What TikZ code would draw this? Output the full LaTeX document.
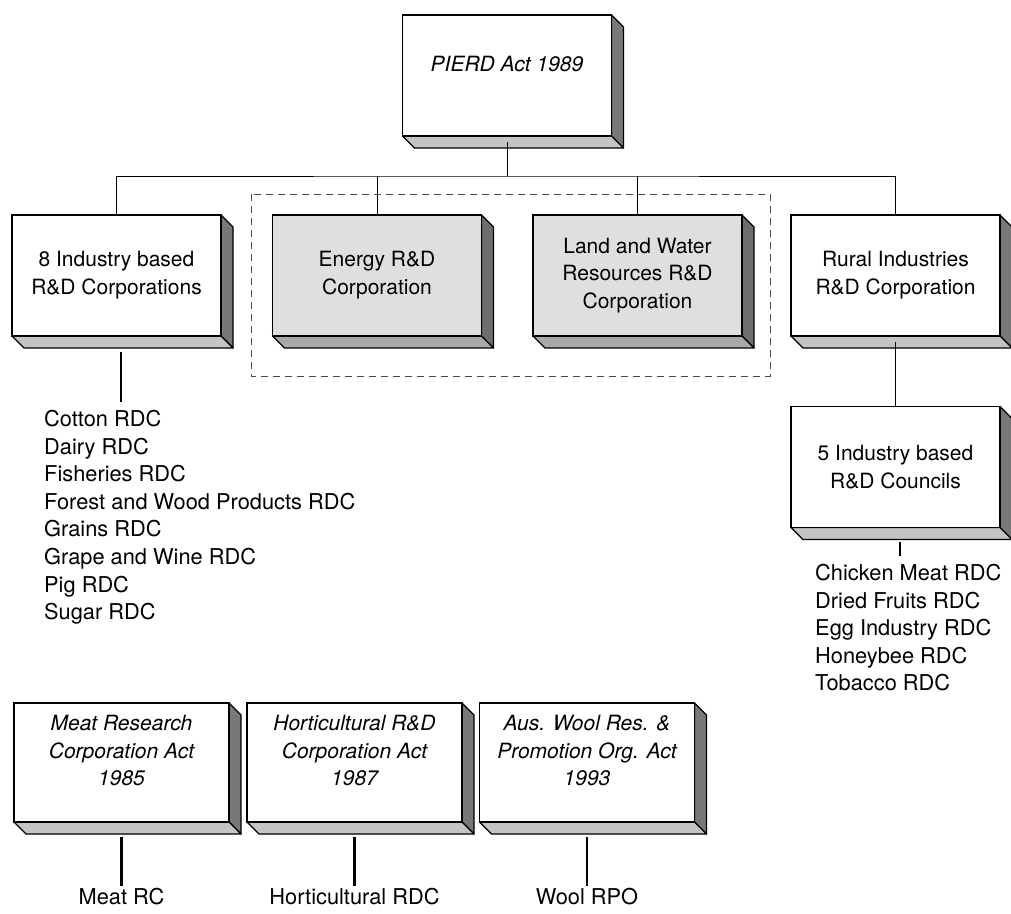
\documentclass[tikz,border=0pt]{standalone}
\usepackage{fontspec}
\setmainfont{TeX Gyre Heros}
\definecolor{sidegray}{gray}{0.47}
\definecolor{basegray}{gray}{0.77}
\definecolor{facegray}{gray}{0.875}
\definecolor{darkside}{gray}{0.43}
\definecolor{darkbase}{gray}{0.66}
\newcommand{\boxfont}{\fontsize{21}{27.8}\selectfont}
\newcommand{\listfont}{\fontsize{21.8}{27.6}\selectfont}
\begin{document}
\begin{tikzpicture}[x=1pt,y=-1pt,
                slab/.style 2 args={draw,line width=1.3pt,outer sep=0pt,inner sep=2pt,
                minimum width=209pt,minimum height=121pt,align=center,font=\boxfont,
                append after command={\pgfextra{
                \filldraw[fill=#1,line width=1.3pt,line join=round]
                    (\tikzlastnode.north east) -- ++(12pt,-12pt)
                    -- ([shift={(12pt,-12pt)}]\tikzlastnode.south east)
                    -- (\tikzlastnode.south east) -- cycle;
                \filldraw[fill=#2,line width=1.3pt,line join=round]
                    (\tikzlastnode.south west) -- ++(12pt,-12pt)
                    -- ([shift={(12pt,-12pt)}]\tikzlastnode.south east)
                    -- (\tikzlastnode.south east) -- cycle;}}},
                corp/.style={slab={sidegray}{basegray},fill=white},
                council/.style={slab={darkside}{darkbase},fill=facegray},
                act/.style={corp,font=\boxfont\itshape,text depth=24pt},
                oldact/.style={act,minimum width=215pt,minimum height=119pt},
                link/.style={line width=1pt},
                stub/.style={line width=2.2pt},
                list/.style={align=left,inner xsep=0pt,inner ysep=8pt,font=\listfont,anchor=north west},
                leaf/.style={inner sep=2pt,font=\listfont,anchor=north},
                group/.style={draw=black!70,line width=0.9pt,dash pattern=on 7pt off 5pt}]
                \useasboundingbox (0,0) rectangle (1011,913);
                \draw[group] (251,194) rectangle (770,376);
                \node (pierd) at (507,75.5) [act] {PIERD Act 1989};
                \node (ind8) at (116.5,275.5) [corp] {8 Industry based\\R\&D Corporations};
                \node (energy) at (377,275.5) [council] {Energy R\&D\\Corporation};
                \node (land) at (637.5,275.5) [council] {Land and Water\\Resources R\&D\\Corporation};
                \node (rural) at (895.5,275.5) [corp] {Rural Industries\\R\&D Corporation};
                \node (ind5) at (895.5,467) [corp] {5 Industry based\\R\&D Councils};
                \node (rdc8) at (44,402) [list] {Cotton RDC\\Dairy RDC\\Fisheries RDC\\Forest and Wood Products RDC\\Grains RDC\\Grape and Wine RDC\\Pig RDC\\Sugar RDC};
                \node (rdc5) at (815,556) [list] {Chicken Meat RDC\\Dried Fruits RDC\\Egg Industry RDC\\Honeybee RDC\\Tobacco RDC};
                \node (meat) at (121.5,762.5) [oldact] {Meat Research\\Corporation Act\\1985};
                \node (horti) at (354.5,762.5) [oldact] {Horticultural R\&D\\Corporation Act\\1987};
                \node (wool) at (587,762.5) [oldact] {Aus. Wool Res. \&\\Promotion Org. Act\\1993};
                \node (meatrc) at (121.5,886) [leaf] {Meat RC};
                \node (hortirdc) at (354.5,886) [leaf] {Horticultural RDC};
                \node (woolrpo) at (587,886) [leaf] {Wool RPO};
                \coordinate (bus) at (507,176);
                \draw[link] ([yshift=-6pt]pierd.south) -- (bus);
                \draw[link] (ind8.north) |- (bus) -| (rural.north);
                \draw[link] (energy.north) -- (energy.north |- bus);
                \draw[link] (land.north) -- (land.north |- bus);
                \draw[link] ([yshift=-6pt]rural.south) -- (ind5.north);
                \draw[stub] ([xshift=4.5pt,yshift=-16pt]ind8.south) -- ([xshift=4.5pt]ind8.south |- rdc8.north);
                \draw[stub] ([xshift=4.5pt,yshift=-14pt]ind5.south) -- ([xshift=4.5pt]ind5.south |- rdc5.north);
                \draw[stub] ([yshift=-15pt]meat.south) -- (meatrc.north);
                \draw[stub] ([yshift=-15pt]horti.south) -- (hortirdc.north);
                \draw[stub] ([yshift=-15pt]wool.south) -- (woolrpo.north);
            \end{tikzpicture}
\end{document}
